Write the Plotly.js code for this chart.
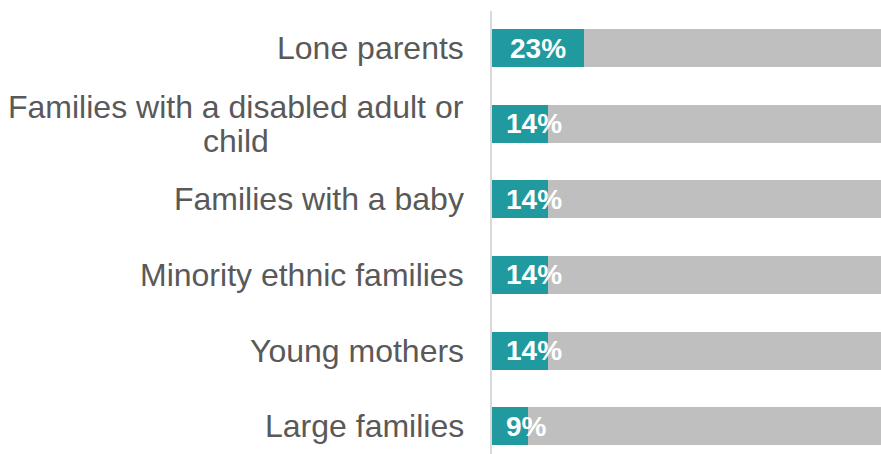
<!DOCTYPE html>
<html>
<head>
<meta charset="utf-8">
<script src="https://cdn.plot.ly/plotly-3.0.1.min.js"></script>
<style>html,body{margin:0;padding:0;background:#fff;}#chart{width:881px;height:454px;}</style>
</head>
<body>
<div id="chart"></div>
<script>
const categories = [
  "Lone parents",
  "Families with a disabled adult or<br>child",
  "Families with a baby",
  "Minority ethnic families",
  "Young mothers",
  "Large families"
];
const values = [23, 14, 14, 14, 14, 9];
const totals = [100, 100, 100, 100, 100, 100];
const valueLabels = ["23%", "14%", "14%", "14%", "14%", "9%"];

const remainder = values.map((v, i) => totals[i] - v);
const FONT = "'Liberation Sans', Arial, sans-serif";
const teal = "#209A9E";
const grey = "#BFBFBF";
const textGrey = "#595959";
const catSize = 32;
const valSize = 28;

const canvas = document.createElement("canvas");
const ctx = canvas.getContext("2d");
function measure(txt, size, bold) {
  ctx.font = (bold ? "bold " : "") + size + "px 'Liberation Sans', Arial, sans-serif";
  return ctx.measureText(txt).width;
}

const traces = [
  {type: "bar", orientation: "h", y: categories, x: values,
   marker: {color: teal}, width: 0.5, hoverinfo: "skip"},
  {type: "bar", orientation: "h", y: categories, x: remainder,
   marker: {color: grey}, width: 0.5, hoverinfo: "skip"}
];

const annotations = [];
const gap = 28;
const lineStep = 34;
categories.forEach((c, i) => {
  const lines = c.split("<br>");
  const maxW = Math.max(...lines.map(l => measure(l, catSize, false)));
  lines.forEach((l, j) => {
    const offset = (lines.length - 1) / 2 - j;
    annotations.push({
      xref: "paper", yref: "y", x: 0, y: c, text: l,
      xanchor: "center", yanchor: "middle",
      xshift: -gap - maxW / 2, yshift: offset * lineStep,
      showarrow: false, font: {family: FONT, size: catSize, color: textGrey}
    });
  });
});

const pxPerUnit = 4;
const pad = 13;
values.forEach((v, i) => {
  const w = measure(valueLabels[i], valSize, true);
  const fits = v * pxPerUnit >= w + 2 * pad;
  annotations.push({
    xref: "x", yref: "y", x: fits ? v / 2 : 0, y: categories[i],
    text: "<b>" + valueLabels[i] + "</b>",
    xanchor: fits ? "center" : "left", yanchor: "middle",
    xshift: fits ? 0 : pad - 1,
    showarrow: false, font: {family: FONT, size: valSize, color: "#ffffff"}
  });
});

const layout = {
  width: 881, height: 454,
  margin: {l: 492, r: 0, t: 11, b: 0, pad: 0},
  barmode: "stack",
  showlegend: false,
  paper_bgcolor: "#ffffff", plot_bgcolor: "#ffffff",
  xaxis: {range: [0, 97.25], showgrid: false, zeroline: false,
          showticklabels: false, showline: false, fixedrange: true},
  yaxis: {type: "category", range: [5.366, -0.489], showgrid: false,
          zeroline: false, showticklabels: false, showline: true,
          linecolor: "#D9D9D9", linewidth: 2, ticks: "", fixedrange: true},
  annotations: annotations,
  font: {family: FONT}
};

Plotly.newPlot("chart", traces, layout, {displayModeBar: false, staticPlot: true});
</script>
</body>
</html>
